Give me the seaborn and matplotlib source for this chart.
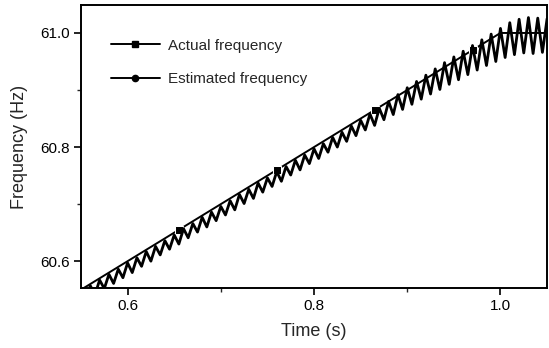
"""
Actual vs. estimated frequency during a ramp (re-drawn chart)
"""
import matplotlib
matplotlib.use('Agg')
import matplotlib.pyplot as plt
import seaborn as sns
from matplotlib.lines import Line2D

# actual frequency: linear ramp, then flat at 61.0 Hz
time_actual = [0.550, 0.655, 0.760, 0.865, 0.970, 1.000, 1.050]
freq_actual = [60.550, 60.655, 60.760, 60.865, 60.970, 61.000, 61.000]

# estimated frequency: follows the ramp with a ripple
time_est = [
    0.550, 0.555, 0.560, 0.565, 0.570, 0.575, 0.580, 0.585, 0.590, 0.595,
    0.600, 0.605, 0.610, 0.615, 0.620, 0.625, 0.630, 0.635, 0.640, 0.645,
    0.650, 0.655, 0.660, 0.665, 0.670, 0.675, 0.680, 0.685, 0.690, 0.695,
    0.700, 0.705, 0.710, 0.715, 0.720, 0.725, 0.730, 0.735, 0.740, 0.745,
    0.750, 0.755, 0.760, 0.765, 0.770, 0.775, 0.780, 0.785, 0.790, 0.795,
    0.800, 0.805, 0.810, 0.815, 0.820, 0.825, 0.830, 0.835, 0.840, 0.845,
    0.850, 0.855, 0.860, 0.865, 0.870, 0.875, 0.880, 0.885, 0.890, 0.895,
    0.900, 0.905, 0.910, 0.915, 0.920, 0.925, 0.930, 0.935, 0.940, 0.945,
    0.950, 0.955, 0.960, 0.965, 0.970, 0.975, 0.980, 0.985, 0.990, 0.995,
    1.000, 1.005, 1.010, 1.015, 1.020, 1.025, 1.030, 1.035, 1.040, 1.045,
    1.050,
]
freq_est = [
    60.547, 60.531, 60.557, 60.541, 60.567, 60.552, 60.577, 60.561, 60.586, 60.571,
    60.597, 60.580, 60.606, 60.591, 60.617, 60.600, 60.626, 60.611, 60.636, 60.621,
    60.646, 60.630, 60.657, 60.641, 60.666, 60.651, 60.677, 60.660, 60.686, 60.671,
    60.696, 60.681, 60.706, 60.690, 60.717, 60.701, 60.726, 60.710, 60.737, 60.721,
    60.746, 60.731, 60.757, 60.740, 60.766, 60.751, 60.777, 60.760, 60.786, 60.771,
    60.797, 60.780, 60.806, 60.791, 60.817, 60.800, 60.826, 60.810, 60.837, 60.820,
    60.847, 60.830, 60.858, 60.838, 60.868, 60.848, 60.880, 60.857, 60.892, 60.866,
    60.904, 60.875, 60.915, 60.884, 60.926, 60.893, 60.937, 60.901, 60.948, 60.910,
    60.958, 60.918, 60.968, 60.927, 60.978, 60.935, 60.988, 60.943, 60.998, 60.950,
    61.008, 60.957, 61.018, 60.962, 61.024, 60.965, 61.027, 60.964, 61.026, 60.966,
    61.025,
]

x_ticks = [0.6, 0.8, 1.0]
y_ticks = [60.6, 60.8, 61.0]

sns.set_style('ticks')
plt.rcParams['font.family'] = ['Liberation Sans', 'DejaVu Sans']

fig = plt.figure(figsize=(5.49, 3.48), dpi=100)
ax = fig.add_axes([0.1475, 0.1724, 0.849, 0.8132])

sns.lineplot(x=time_actual, y=freq_actual, ax=ax, color='black', linewidth=1.4,
             marker='s', markersize=5.5, markevery=[1, 2, 3, 4],
             sort=False, estimator=None)
sns.lineplot(x=time_est, y=freq_est, ax=ax, color='black', linewidth=2.0,
             sort=False, estimator=None)

ax.set_xlim(0.55, 1.05)
ax.set_ylim(60.553, 61.049)
ax.set_xticks(x_ticks)
ax.set_xticklabels([f'{v:.1f}' for v in x_ticks])
ax.set_yticks(y_ticks)
ax.set_yticklabels([f'{v:.1f}' for v in y_ticks])
ax.set_xticks([0.7, 0.9], minor=True)
ax.set_yticks([60.7, 60.9], minor=True)
ax.tick_params(which='major', direction='out', length=5, width=1.2,
               labelsize=11, colors='black', pad=3)
ax.tick_params(which='minor', direction='out', length=3, width=1.0)

for s in ax.spines.values():
    s.set_linewidth(1.4)
    s.set_color('black')

ax.set_xlabel('Time (s)', fontsize=13, labelpad=7)
ax.set_ylabel('Frequency (Hz)', fontsize=13, labelpad=9)

handles = [
    Line2D([], [], color='black', linewidth=1.4, marker='s', markersize=5),
    Line2D([], [], color='black', linewidth=1.4, marker='o', markersize=4.5),
]
ax.legend(handles, ['Actual frequency', 'Estimated frequency'],
          loc='upper left', bbox_to_anchor=(0.035, 0.93), frameon=False,
          fontsize=11, handlelength=3.2, handletextpad=0.5, labelspacing=1.3)

fig.savefig('out.png', dpi=100)
